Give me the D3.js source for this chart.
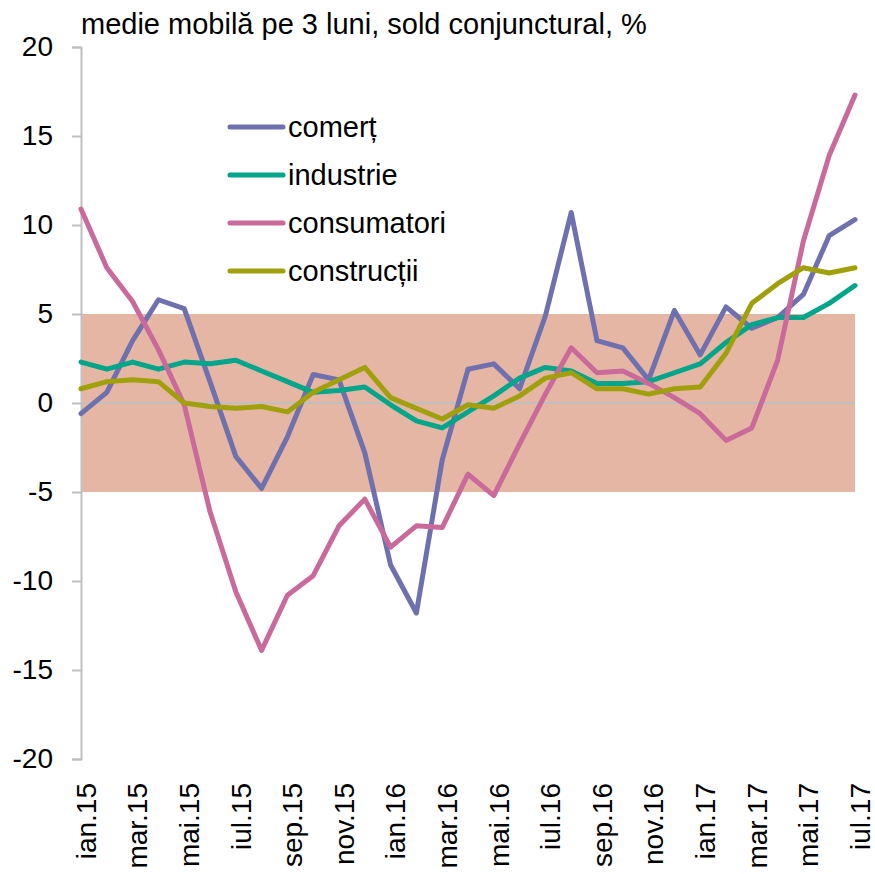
<!DOCTYPE html>
<html lang="ro">

<head>
    <meta charset="UTF-8">
    <title>Sold conjunctural</title>
    <script src="https://cdn.jsdelivr.net/npm/d3@7"></script>
    <style>
        body {
            margin: 0;
            background: #fff;
        }
        #chart text {
            font-family: "Liberation Sans", Arial, sans-serif;
            fill: #000;
        }
    </style>
</head>

<body>
    <div id="chart"></div>
    <script>
        const months = ["ian.15", "feb.15", "mar.15", "apr.15", "mai.15", "iun.15", "iul.15", "aug.15", "sep.15", "oct.15", "nov.15", "dec.15",
            "ian.16", "feb.16", "mar.16", "apr.16", "mai.16", "iun.16", "iul.16", "aug.16", "sep.16", "oct.16", "nov.16", "dec.16",
            "ian.17", "feb.17", "mar.17", "apr.17", "mai.17", "iun.17", "iul.17"];

        const comert = [-0.6, 0.6, 3.5, 5.8, 5.3, 1.2, -3.0, -4.8, -1.9, 1.6, 1.3, -2.8,
            -9.1, -11.8, -3.2, 1.9, 2.2, 0.8, 4.9, 10.7, 3.5, 3.1, 1.3, 5.2,
            2.7, 5.4, 4.2, 4.8, 6.1, 9.4, 10.3];
        const industrie = [2.3, 1.9, 2.3, 1.9, 2.3, 2.2, 2.4, 1.8, 1.2, 0.6, 0.7, 0.9,
            -0.1, -1.0, -1.4, -0.5, 0.4, 1.4, 2.0, 1.8, 1.1, 1.1, 1.2, 1.7,
            2.2, 3.4, 4.4, 4.8, 4.8, 5.6, 6.6];
        const consumatori = [10.9, 7.6, 5.7, 3.0, -0.1, -6.1, -10.6, -13.9, -10.8, -9.7, -6.9, -5.4,
            -8.1, -6.9, -7.0, -4.0, -5.2, -2.3, 0.5, 3.1, 1.7, 1.8, 1.1, 0.3,
            -0.6, -2.1, -1.4, 2.4, 9.1, 13.9, 17.3];
        const constructii = [0.8, 1.2, 1.3, 1.2, 0.0, -0.2, -0.3, -0.2, -0.5, 0.6, 1.3, 2.0,
            0.3, -0.3, -0.9, -0.1, -0.3, 0.4, 1.4, 1.7, 0.8, 0.8, 0.5, 0.8,
            0.9, 2.8, 5.6, 6.7, 7.6, 7.3, 7.6];

        const seriesNames = ["comerț", "industrie", "consumatori", "construcții"];
        const seriesColors = ["#6f70ae", "#00a58a", "#c96a9a", "#a0a00c"];
        const yTicks = [20, 15, 10, 5, 0, -5, -10, -15, -20];
        const band = [-5, 5];
        const title = "medie mobilă pe 3 luni, sold conjunctural, %";

        const width = 875;
        const height = 874;
        const margin = { top: 47, right: 20, bottom: 115, left: 81 };

        const svg = d3.select("#chart")
            .append("svg")
            .attr("width", width)
            .attr("height", height);

        const x = d3.scalePoint()
            .domain(months)
            .range([margin.left, width - margin.right]);
        const y = d3.scaleLinear()
            .domain([-20, 20])
            .range([height - margin.bottom, margin.top]);

        // banda +/- 5
        svg.append("rect")
            .attr("x", margin.left)
            .attr("width", width - margin.right - margin.left)
            .attr("y", y(band[1]))
            .attr("height", y(band[0]) - y(band[1]))
            .attr("fill", "#e5b6a4");

        // linia de zero
        svg.append("line")
            .attr("x1", margin.left)
            .attr("x2", width - margin.right)
            .attr("y1", y(0))
            .attr("y2", y(0))
            .attr("stroke", "#bfbfbf")
            .attr("stroke-width", 2);

        // axa y (cu cratima, nu semnul minus)
        const yAxis = svg.append("g")
            .attr("transform", `translate(${margin.left},0)`)
            .call(d3.axisLeft(y).tickValues(yTicks).tickSize(9).tickPadding(19).tickFormat(d => String(d)));
        yAxis.select(".domain").attr("stroke", "#bfbfbf").attr("stroke-width", 2);
        yAxis.selectAll(".tick line").attr("stroke", "#bfbfbf").attr("stroke-width", 2);
        yAxis.selectAll(".tick text")
            .attr("font-size", 28)
            .attr("font-family", null);

        // etichete x, din doua in doua luni
        svg.append("g")
            .selectAll("text")
            .data(months.filter((d, i) => i % 2 === 0))
            .join("text")
            .attr("transform", d => `translate(${x(d) + 5},${height - margin.bottom + 24}) rotate(-90)`)
            .attr("text-anchor", "end")
            .attr("dy", "0.35em")
            .attr("font-size", 28)
            .text(d => d);

        const data = [comert, industrie, consumatori, constructii];
        const line = d3.line()
            .x((d, i) => x(months[i]))
            .y(d => y(d));

        svg.append("g")
            .selectAll("path")
            .data(data)
            .join("path")
            .attr("d", line)
            .attr("fill", "none")
            .attr("stroke", (d, i) => seriesColors[i])
            .attr("stroke-width", 5)
            .attr("stroke-linejoin", "round")
            .attr("stroke-linecap", "round");

        // legenda
        const legend = svg.append("g")
            .selectAll("g")
            .data(seriesNames)
            .join("g")
            .attr("transform", (d, i) => `translate(230,${127 + i * 48})`);
        legend.append("line")
            .attr("x1", 0)
            .attr("x2", 53)
            .attr("stroke", (d, i) => seriesColors[i])
            .attr("stroke-width", 5)
            .attr("stroke-linecap", "round");
        legend.append("text")
            .attr("x", 58)
            .attr("dy", "0.35em")
            .attr("font-size", 29)
            .text(d => d);

        svg.append("text")
            .attr("x", margin.left)
            .attr("y", 34)
            .attr("font-size", 29)
            .text(title);
    </script>
</body>

</html>
